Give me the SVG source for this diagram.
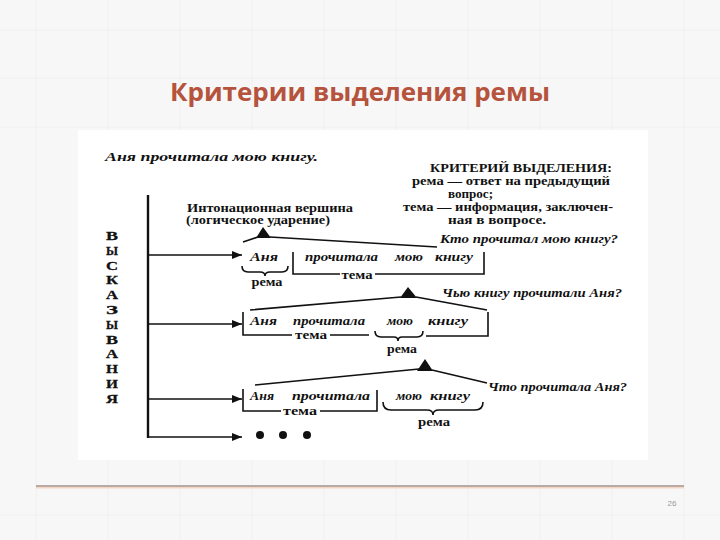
<svg xmlns="http://www.w3.org/2000/svg" width="720" height="540" viewBox="0 0 720 540">
<defs>
<style>
.bg{fill:#f7f7f7}
.grid{stroke:#f0f0f0;stroke-width:1}
.title{font-family:"Open Sans","Liberation Sans",sans-serif;font-weight:bold;font-size:25px;fill:#b5533c}
.ln{stroke:#111;stroke-width:1.6;fill:none}
.thick{stroke:#111;stroke-width:2.4;fill:none}
.tri{fill:#111}
.it{font-family:"Liberation Serif",serif;font-style:italic;font-weight:bold;font-size:13px;fill:#111}
.bd{font-family:"Liberation Serif",serif;font-weight:bold;font-size:11.5px;fill:#111}
.lt{font-family:"Liberation Serif",serif;font-weight:bold;font-size:13.5px;fill:#111;stroke:#111;stroke-width:0.3}
.pg{font-family:"Liberation Sans",sans-serif;font-size:8px;fill:#999}
</style>
<marker id="ah" viewBox="0 0 10 8" refX="10" refY="4" markerWidth="10" markerHeight="8" markerUnits="userSpaceOnUse" orient="auto">
<path d="M0,0 L10,4 L0,8 Z" fill="#111"/>
</marker>
</defs>
<rect class="bg" x="0" y="0" width="720" height="540"/>
<g id="grid">
<path class="grid" d="M36,0V540M108,0V540M180,0V540M252,0V540M324,0V540M396,0V540M468,0V540M540,0V540M612,0V540M684,0V540M0,30H720M0,78H720M0,127H720M0,515H720"/>
</g>
<rect x="78" y="130" width="570" height="330" fill="#fff"/>
<text class="title" x="360" y="101" text-anchor="middle" textLength="380" lengthAdjust="spacingAndGlyphs">Критерии выделения ремы</text>
<g id="footer">
<line x1="36" y1="486" x2="684" y2="486" stroke="#7a5e55" stroke-width="1.2"/>
<line x1="36" y1="487.8" x2="684" y2="487.8" stroke="#f6d5c0" stroke-width="1.5"/>
<text class="pg" x="672" y="506" text-anchor="middle">26</text>
</g>
<g id="sentence">
<text class="it" x="105" y="161" textLength="213" lengthAdjust="spacingAndGlyphs" font-size="14">Аня прочитала мою книгу.</text>
</g>
<g id="criteria">
<text class="bd" x="430" y="172" textLength="182" lengthAdjust="spacingAndGlyphs">КРИТЕРИЙ ВЫДЕЛЕНИЯ:</text>
<text class="bd" x="412" y="185" textLength="198" lengthAdjust="spacingAndGlyphs">рема — ответ на предыдущий</text>
<text class="bd" x="448" y="198" textLength="45" lengthAdjust="spacingAndGlyphs">вопрос;</text>
<text class="bd" x="403" y="211" textLength="210" lengthAdjust="spacingAndGlyphs">тема — информация, заключен-</text>
<text class="bd" x="448" y="224" textLength="98" lengthAdjust="spacingAndGlyphs">ная в вопросе.</text>
</g>
<g id="intonation">
<text class="bd" x="187" y="212" textLength="166" lengthAdjust="spacingAndGlyphs">Интонационная вершина</text>
<text class="bd" x="186" y="224" textLength="144" lengthAdjust="spacingAndGlyphs">(логическое ударение)</text>
</g>
<g id="side-label">
<text class="lt" x="106" y="240" textLength="12" lengthAdjust="spacingAndGlyphs">В</text>
<text class="lt" x="106" y="255" textLength="12" lengthAdjust="spacingAndGlyphs">Ы</text>
<text class="lt" x="106" y="270" textLength="12" lengthAdjust="spacingAndGlyphs">С</text>
<text class="lt" x="106" y="284" textLength="12" lengthAdjust="spacingAndGlyphs">К</text>
<text class="lt" x="106" y="299" textLength="12" lengthAdjust="spacingAndGlyphs">А</text>
<text class="lt" x="106" y="314" textLength="12" lengthAdjust="spacingAndGlyphs">З</text>
<text class="lt" x="106" y="329" textLength="12" lengthAdjust="spacingAndGlyphs">Ы</text>
<text class="lt" x="106" y="344" textLength="12" lengthAdjust="spacingAndGlyphs">В</text>
<text class="lt" x="106" y="358" textLength="12" lengthAdjust="spacingAndGlyphs">А</text>
<text class="lt" x="106" y="373" textLength="12" lengthAdjust="spacingAndGlyphs">Н</text>
<text class="lt" x="106" y="388" textLength="12" lengthAdjust="spacingAndGlyphs">И</text>
<text class="lt" x="106" y="403" textLength="12" lengthAdjust="spacingAndGlyphs">Я</text>
</g>
<g id="connectors">
<line class="thick" x1="148" y1="195" x2="148" y2="438"/>
<line class="ln" x1="148" y1="255" x2="242" y2="255" marker-end="url(#ah)"/>
<line class="ln" x1="148" y1="324" x2="242" y2="324" marker-end="url(#ah)"/>
<line class="ln" x1="148" y1="399" x2="242" y2="399" marker-end="url(#ah)"/>
<line class="ln" x1="147" y1="437" x2="242" y2="437" marker-end="url(#ah)"/>
</g>
<g id="row1">
<path class="ln" d="M243,242 L258,237 M270,237 L437,247"/>
<path class="tri" d="M263,227 L256,238 L271,238 Z"/>
<text class="it" x="440" y="243" textLength="178" lengthAdjust="spacingAndGlyphs">Кто прочитал мою книгу?</text>
<text class="it" x="250" y="261" textLength="28" lengthAdjust="spacingAndGlyphs">Аня</text>
<text class="it" x="305" y="261" textLength="73" lengthAdjust="spacingAndGlyphs">прочитала</text>
<text class="it" x="395" y="261" textLength="28" lengthAdjust="spacingAndGlyphs">мою</text>
<text class="it" x="435" y="261" textLength="38" lengthAdjust="spacingAndGlyphs">книгу</text>
<path class="ln" d="M242,266 Q242,272 248,272 L260,272 Q265,272 265,276 Q265,272 270,272 L282,272 Q288,272 288,266"/>
<text class="bd" x="267" y="286" text-anchor="middle" textLength="31" lengthAdjust="spacingAndGlyphs">рема</text>
<path class="ln" d="M293,252 L293,274 L340,274 M375,274 L484,274 L484,252"/>
<text class="bd" x="357" y="279" text-anchor="middle" textLength="31" lengthAdjust="spacingAndGlyphs">тема</text>
</g>
<g id="row2">
<path class="ln" d="M250,310 L401,297 M416,297 L487,310"/>
<path class="tri" d="M408,287 L400,298 L417,298 Z"/>
<text class="it" x="442" y="297" textLength="180" lengthAdjust="spacingAndGlyphs">Чью книгу прочитали Аня?</text>
<text class="it" x="250" y="325" textLength="27" lengthAdjust="spacingAndGlyphs">Аня</text>
<text class="it" x="293" y="325" textLength="72" lengthAdjust="spacingAndGlyphs">прочитала</text>
<text class="it" x="387" y="325" textLength="26" lengthAdjust="spacingAndGlyphs">мою</text>
<text class="it" x="428" y="325" textLength="40" lengthAdjust="spacingAndGlyphs">книгу</text>
<path class="ln" d="M243,312 L243,335 L292,335 M330,335 L369,335"/>
<text class="bd" x="311" y="339" text-anchor="middle" textLength="32" lengthAdjust="spacingAndGlyphs">тема</text>
<path class="ln" d="M375,331 Q375,337 381,337 L394,337 Q398,337 398,341 Q398,337 402,337 L417,337 Q423,337 423,331"/>
<text class="bd" x="402" y="353" text-anchor="middle" textLength="30" lengthAdjust="spacingAndGlyphs">рема</text>
<path class="ln" d="M426,336 L488,336 L488,312"/>
</g>
<g id="row3">
<path class="ln" d="M255,385 L419,369 M432,370 L487,383"/>
<path class="tri" d="M425,359 L417,371 L433,371 Z"/>
<text class="it" x="488" y="391" textLength="139" lengthAdjust="spacingAndGlyphs">Что прочитала Аня?</text>
<text class="it" x="250" y="400" textLength="24" lengthAdjust="spacingAndGlyphs">Аня</text>
<text class="it" x="292" y="400" textLength="78" lengthAdjust="spacingAndGlyphs">прочитала</text>
<text class="it" x="396" y="400" textLength="26" lengthAdjust="spacingAndGlyphs">мою</text>
<text class="it" x="430" y="400" textLength="40" lengthAdjust="spacingAndGlyphs">книгу</text>
<path class="ln" d="M243,389 L243,411 L281,411 M320,411 L377,411 L377,390"/>
<text class="bd" x="300" y="415" text-anchor="middle" textLength="34" lengthAdjust="spacingAndGlyphs">тема</text>
<path class="ln" d="M383,402 Q383,410 391,410 L427,410 Q433,410 433,415 Q433,410 439,410 L475,410 Q483,410 483,402"/>
<text class="bd" x="434" y="426" text-anchor="middle" textLength="32" lengthAdjust="spacingAndGlyphs">рема</text>
</g>
<g id="row4">
<circle cx="260" cy="435" r="4" fill="#111"/>
<circle cx="283" cy="435" r="4" fill="#111"/>
<circle cx="307" cy="435" r="4" fill="#111"/>
</g>
</svg>
